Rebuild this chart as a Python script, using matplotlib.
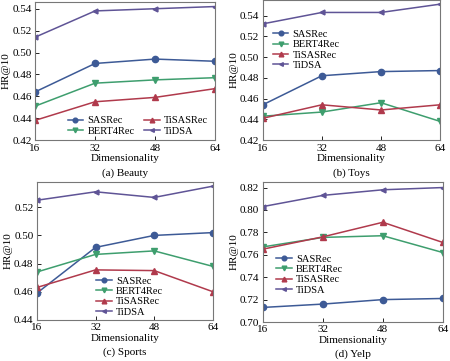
import matplotlib
matplotlib.use("Agg")
import matplotlib.pyplot as plt

plt.rcParams['font.family'] = ['Liberation Serif', 'DejaVu Serif']
plt.rcParams['font.size'] = 8

# ====== DATA ======
dims = [16, 32, 48, 64]
models = ['SASRec', 'BERT4Rec', 'TiSASRec', 'TiDSA']

beauty = {
    'SASRec':   [0.464, 0.490, 0.494, 0.492],
    'BERT4Rec': [0.451, 0.472, 0.475, 0.477],
    'TiSASRec': [0.438, 0.455, 0.459, 0.467],
    'TiDSA':    [0.514, 0.538, 0.540, 0.542],
}
toys = {
    'SASRec':   [0.454, 0.482, 0.486, 0.487],
    'BERT4Rec': [0.443, 0.447, 0.456, 0.438],
    'TiSASRec': [0.441, 0.454, 0.449, 0.454],
    'TiDSA':    [0.532, 0.543, 0.543, 0.551],
}
sports = {
    'SASRec':   [0.459, 0.4915, 0.500, 0.502],
    'BERT4Rec': [0.474, 0.4865, 0.489, 0.478],
    'TiSASRec': [0.463, 0.4755, 0.475, 0.460],
    'TiDSA':    [0.525, 0.531, 0.527, 0.535],
}
yelp = {
    'SASRec':   [0.713, 0.716, 0.720, 0.721],
    'BERT4Rec': [0.767, 0.7755, 0.777, 0.762],
    'TiSASRec': [0.765, 0.776, 0.789, 0.771],
    'TiDSA':    [0.803, 0.813, 0.818, 0.820],
}

# ====== STYLE ======
colors = {'SASRec': '#3d5a96', 'BERT4Rec': '#3e9e6e', 'TiSASRec': '#b03a4c', 'TiDSA': '#5f5496'}
markers = {'SASRec': 'o', 'BERT4Rec': 'v', 'TiSASRec': '^', 'TiDSA': '<'}
msizes = {'SASRec': 4.5, 'BERT4Rec': 4.5, 'TiSASRec': 4.5, 'TiDSA': 3.5}

panels = [
    # data, caption, rect, ylim, yticks, legend kwargs
    (beauty, '(a) Beauty', [0.078, 0.612, 0.400, 0.382], (0.42, 0.546),
     [0.42, 0.44, 0.46, 0.48, 0.50, 0.52, 0.54],
     dict(loc='lower right', ncol=2, bbox_to_anchor=(1.0, -0.02), columnspacing=0.9)),
    (toys, '(b) Toys', [0.584, 0.612, 0.394, 0.388], (0.42, 0.555),
     [0.42, 0.44, 0.46, 0.48, 0.50, 0.52, 0.54],
     dict(loc='upper left', ncol=1, bbox_to_anchor=(0.015, 0.84))),
    (sports, '(c) Sports', [0.082, 0.114, 0.391, 0.382], (0.44, 0.538),
     [0.44, 0.46, 0.48, 0.50, 0.52],
     dict(loc='lower left', ncol=1, bbox_to_anchor=(0.295, -0.03))),
    (yelp, '(d) Yelp', [0.584, 0.108, 0.400, 0.388], (0.70, 0.825),
     [0.70, 0.72, 0.74, 0.76, 0.78, 0.80, 0.82],
     dict(loc='upper left', ncol=1, bbox_to_anchor=(0.033, 0.535))),
]

fig = plt.figure(figsize=(4.5, 3.61), dpi=100)

for data, caption, rect, ylim, yticks, leg_kw in panels:
    ax = fig.add_axes(rect)
    for m in models:
        ax.plot(dims, data[m], color=colors[m], marker=markers[m],
                markersize=msizes[m], linewidth=1.1, label=m)
    ax.set_xlim(16, 64)
    ax.set_xticks(dims)
    ax.set_ylim(*ylim)
    ax.set_yticks(yticks)
    ax.set_yticklabels([f'{t:.2f}' for t in yticks])
    ax.tick_params(direction='in', length=3, width=0.6, labelsize=8, pad=2.5)
    for s in ax.spines.values():
        s.set_color('#777777')
        s.set_linewidth(0.8)
    ax.set_ylabel('HR@10', fontsize=8, labelpad=1)
    ax.set_xlabel('Dimensionality', fontsize=8, labelpad=1)
    ax.annotate(caption, xy=(0.5, 0), xycoords='axes fraction',
                xytext=(0, -23.5), textcoords='offset points',
                ha='center', va='center', fontsize=8)
    ax.legend(frameon=False, fontsize=7.5, handlelength=1.5, handletextpad=0.4,
              labelspacing=0.1, borderpad=0.2, markerscale=0.75, **leg_kw)

fig.savefig('out.png', dpi=100)
